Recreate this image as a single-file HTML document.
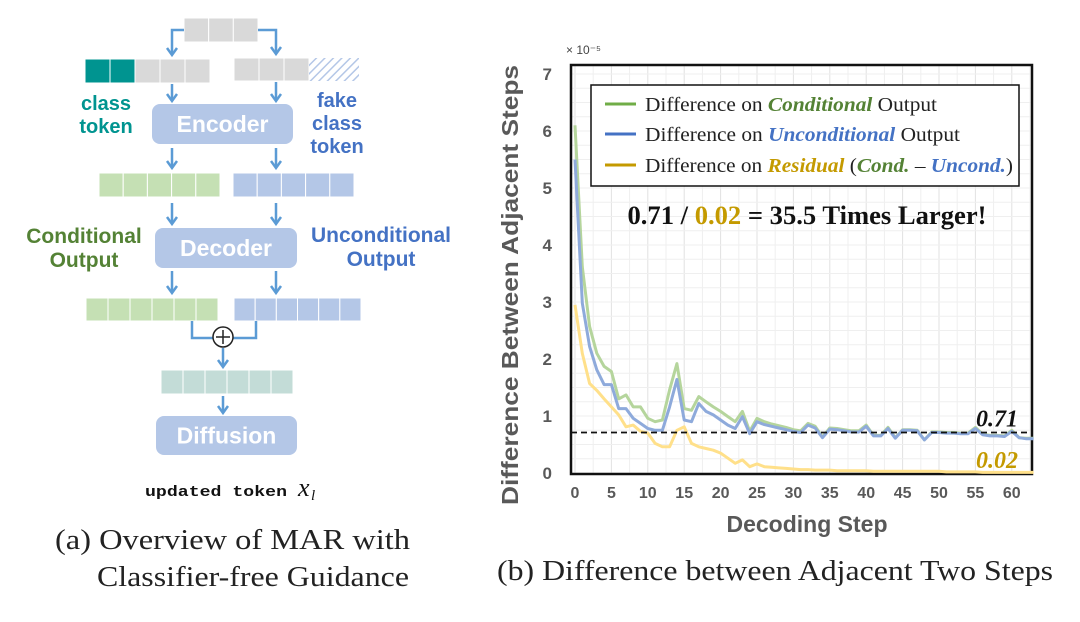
<!DOCTYPE html>
<html><head><meta charset="utf-8"><style>
body{margin:0;background:#fff;width:1080px;height:622px;overflow:hidden;font-family:"Liberation Sans",sans-serif}
svg{position:absolute;left:0;top:0}
</style></head><body>
<svg width="1080" height="622" viewBox="0 0 1080 622" xmlns="http://www.w3.org/2000/svg">
<defs>
<pattern id="hatch" width="6" height="6" patternUnits="userSpaceOnUse" patternTransform="rotate(45)">
<rect width="6" height="6" fill="#fff"/><line x1="0" y1="0" x2="0" y2="6" stroke="#b4c7e7" stroke-width="3"/></pattern>
</defs>
<g id="diagram"></g>
<g id="chart"></g>
<text x="55" y="549" font-family="Liberation Serif,serif" font-size="28" fill="#222" textLength="355" lengthAdjust="spacingAndGlyphs">(a)  Overview of MAR with</text>
<text x="97" y="586" font-family="Liberation Serif,serif" font-size="28" fill="#222" textLength="312" lengthAdjust="spacingAndGlyphs">Classifier-free Guidance</text>
<text x="497" y="580" font-family="Liberation Serif,serif" font-size="28" fill="#222" textLength="556" lengthAdjust="spacingAndGlyphs">(b) Difference between Adjacent Two Steps</text>
</svg>
<script>
const NS="http://www.w3.org/2000/svg";
function mk(parent,tag,attrs,txt){const e=document.createElementNS(NS,tag);for(const k in attrs)e.setAttribute(k,attrs[k]);if(txt!==undefined)e.textContent=txt;parent.appendChild(e);return e;}
// ---------- Diagram ----------
const D=document.getElementById('diagram');
function row(x,y,w,h,fills,name){const g=mk(D,'g',{});const cw=w/fills.length;fills.forEach((f,i)=>mk(g,'rect',{x:x+i*cw,y:y,width:cw,height:h,fill:f,stroke:'#fff','stroke-width':1}));}
const G='#d9d9d9',T='#009490',GR='#c5e0b4',BL='#b4c7e7',TL='#c3dcd7';
row(184,18,74,24,[G,G,G],'input-tokens');
row(85,59,125,24,[T,T,G,G,G],'conditional-tokens');
row(234,58,75,23,[G,G,G],'unconditional-tokens');
mk(D,'rect',{x:309,y:58,width:50,height:23,fill:'url(#hatch)'});
row(99,173,121,24,[GR,GR,GR,GR,GR],'encoded-cond-tokens');
row(233,173,121,24,[BL,BL,BL,BL,BL],'encoded-uncond-tokens');
row(86,298,132,23,[GR,GR,GR,GR,GR,GR],'conditional-output-tokens');
row(234,298,127,23,[BL,BL,BL,BL,BL,BL],'unconditional-output-tokens');
row(161,370,132,24,[TL,TL,TL,TL,TL,TL],'guided-tokens');
function box(x,y,w,h,t,name){const g=mk(D,'g',{});mk(g,'rect',{x:x,y:y,width:w,height:h,rx:8,fill:'#b4c7e7'});mk(g,'text',{x:x+w/2,y:y+h/2+8,'text-anchor':'middle','font-size':23,'font-weight':'bold',fill:'#fff'},t);}
box(152,104,141,40,'Encoder','encoder-box');
box(155,228,142,40,'Decoder','decoder-box');
box(156,416,141,39,'Diffusion','diffusion-box');
function arrow(d,ex,ey){mk(D,'path',{d:d,stroke:'#5b9bd5','stroke-width':2.5,fill:'none'});
mk(D,'path',{d:`M${ex-5},${ey-7} L${ex},${ey} L${ex+5},${ey-7}`,stroke:'#5b9bd5','stroke-width':2.5,fill:'none','stroke-linejoin':'miter'});}
arrow('M184,30 H172 V55',172,55);arrow('M258,30 H276 V54',276,54);
arrow('M172,84 V101',172,101);arrow('M276,82 V101',276,101);
arrow('M172,148 V168',172,168);arrow('M276,148 V168',276,168);
arrow('M172,203 V224',172,224);arrow('M276,203 V224',276,224);
arrow('M172,271 V293',172,293);arrow('M276,271 V293',276,293);
arrow('M223,348 V367',223,367);arrow('M223,396 V413',223,413);
mk(D,'path',{d:'M192,321 V338 H213 M233,338 H256 V321',stroke:'#5b9bd5','stroke-width':2.5,fill:'none'});
const pc=mk(D,'g',{});
mk(pc,'circle',{cx:223,cy:337,r:10,fill:'#fff',stroke:'#222','stroke-width':1.5});
mk(pc,'path',{d:'M216,337 H230 M223,330 V344',stroke:'#222','stroke-width':1.5});
function lbl(x,y,lines,col,name,fs){const t=mk(D,'text',{x:x,y:y,'font-size':fs,'font-weight':'bold',fill:col,'text-anchor':'middle'});lines.forEach((l,i)=>mk(t,'tspan',{x:x,dy:i?(fs+3):0},l));}
lbl(106,110,['class','token'],'#009490','class-token-label',20);
lbl(337,107,['fake','class','token'],'#4472c4','fake-class-token-label',20);
lbl(84,243,['Conditional','Output'],'#548235','conditional-output-label',21);
lbl(381,242,['Unconditional','Output'],'#4472c4','unconditional-output-label',21);
const ut=mk(D,'text',{x:145,y:496,'font-family':'Liberation Mono,monospace','font-size':15,'font-weight':'bold',fill:'#111',textLength:142,lengthAdjust:'spacingAndGlyphs'},'updated token');

mk(D,'text',{x:298,y:496,'font-family':'Liberation Serif,serif','font-size':26,'font-style':'italic',fill:'#111'},'x');
mk(D,'text',{x:311,y:500,'font-family':'Liberation Serif,serif','font-size':15,'font-style':'italic',fill:'#111'},'l');

// ---------- Chart data ----------
const steps=Array.from({length:64},(_,i)=>i);
const condVals=[6.1,3.62,2.57,2.1,1.87,1.78,1.3,1.37,1.16,1.16,0.96,0.9,0.93,1.46,1.92,1.13,1.1,1.34,1.25,1.16,1.08,0.99,0.9,1.08,0.73,0.96,0.9,0.86,0.83,0.8,0.76,0.74,0.87,0.82,0.63,0.79,0.78,0.76,0.74,0.74,0.84,0.66,0.66,0.8,0.62,0.76,0.76,0.75,0.58,0.72,0.72,0.71,0.71,0.7,0.7,0.8,0.68,0.66,0.66,0.65,0.75,0.62,0.61,0.61];
const uncondVals=[5.5,2.98,2.22,1.81,1.55,1.55,1.13,1.13,0.96,0.87,0.78,0.75,0.75,1.16,1.64,0.93,0.9,1.22,1.08,1.02,0.93,0.84,0.78,0.99,0.69,0.9,0.85,0.82,0.79,0.76,0.73,0.71,0.84,0.79,0.62,0.77,0.76,0.74,0.72,0.72,0.82,0.65,0.65,0.78,0.61,0.75,0.75,0.74,0.58,0.71,0.71,0.7,0.7,0.69,0.69,0.78,0.67,0.65,0.65,0.64,0.73,0.62,0.6,0.6];
const residVals=[2.95,2.1,1.57,1.45,1.3,1.16,1.02,0.81,0.84,0.73,0.7,0.52,0.46,0.46,0.75,0.81,0.52,0.46,0.43,0.4,0.35,0.26,0.17,0.23,0.11,0.16,0.11,0.1,0.09,0.08,0.07,0.06,0.06,0.05,0.05,0.05,0.04,0.04,0.04,0.04,0.04,0.03,0.03,0.03,0.03,0.03,0.03,0.03,0.03,0.03,0.03,0.02,0.02,0.02,0.02,0.02,0.01,0.01,0.01,0.01,0.01,0.01,0.01,0.01];
const yTicks=[0,1,2,3,4,5,6,7];
const xTicks=[0,5,10,15,20,25,30,35,40,45,50,55,60];
const refValue=0.71;
const residRef=0.02;
// ---------- Chart drawing ----------
const C=document.getElementById('chart');
const X0=575,XS=7.28,Y0=473,YS=57;
const xs=v=>X0+v*XS, ys=v=>Y0-v*YS;
const L=571,R=1032,TOP=65,BOT=474;
for(let v=0;v<=65;v+=2.5){if(xs(v)>R)break;mk(C,'line',{x1:xs(v),x2:xs(v),y1:TOP,y2:BOT,stroke:v%5==0?'#e2e2e2':'#efefef','stroke-width':1});}
for(let v=0;v<=7.5;v+=0.25){if(ys(v)<TOP)break;mk(C,'line',{x1:L,x2:R,y1:ys(v),y2:ys(v),stroke:'#efefef','stroke-width':1});}
mk(C,'rect',{x:L,y:TOP,width:R-L,height:BOT-TOP,fill:'none',stroke:'#111','stroke-width':2.5});
yTicks.forEach(v=>{const t=mk(C,'text',{x:552,y:ys(v)+6,'text-anchor':'end','font-size':17,'font-weight':'bold',fill:'#595959'},v);

});
xTicks.forEach(v=>{const t=mk(C,'text',{x:xs(v),y:498,'text-anchor':'middle','font-size':16,'font-weight':'bold',fill:'#595959'},v);

});
const sc=mk(C,'text',{x:566,y:54,'font-size':12,fill:'#444'},'× 10⁻⁵');


const yt=mk(C,'text',{x:0,y:0,transform:'translate(518,285) rotate(-90)','text-anchor':'middle','font-size':23,'font-weight':'bold',fill:'#595959',textLength:440,lengthAdjust:'spacingAndGlyphs'},'Difference Between Adjacent Steps');


const xt=mk(C,'text',{x:807,y:532,'text-anchor':'middle','font-size':23,'font-weight':'bold',fill:'#595959'},'Decoding Step');


function series(vals,col,name){const d=vals.map((v,i)=>(i?'L':'M')+xs(steps[i]).toFixed(1)+','+ys(v).toFixed(1)).join(' ');
const p=mk(C,'path',{d:d,fill:'none',stroke:col,'stroke-width':3,'stroke-linejoin':'round'});

}
series(residVals,'#ffe08a','residual-line');
series(condVals,'#b5d59c','conditional-line');
series(uncondVals,'#8eaadb','unconditional-line');
const dl=mk(C,'line',{x1:L,x2:R,y1:ys(refValue),y2:ys(refValue),stroke:'#111','stroke-width':1.8,'stroke-dasharray':'6,4'});


const a1=mk(C,'text',{x:1018,y:ys(refValue)-6,'text-anchor':'end','font-family':'Liberation Serif,serif','font-size':24,'font-weight':'bold','font-style':'italic',fill:'#111'},refValue.toFixed(2));


const a2=mk(C,'text',{x:1018,y:ys(residRef)-4,'text-anchor':'end','font-family':'Liberation Serif,serif','font-size':24,'font-weight':'bold','font-style':'italic',fill:'#c49a00'},residRef.toFixed(2));


// legend
const lg=mk(C,'g',{});


mk(lg,'rect',{x:591,y:85,width:428,height:101,fill:'#fff',stroke:'#111','stroke-width':1.5});
const ent=[['#70ad47',104,292,[['Difference on ',''],['Conditional','#548235'],[' Output','']]],
['#4472c4',134,315,[['Difference on ',''],['Unconditional','#4472c4'],[' Output','']]],
['#c49a00',165,368,[['Difference on ',''],['Residual','#c49a00'],[' (',''],['Cond.','#548235'],[' – ',''],['Uncond.','#4472c4'],[')','']]]];
ent.forEach(e=>{mk(lg,'line',{x1:605,x2:636,y1:e[1],y2:e[1],stroke:e[0],'stroke-width':3});
const t=mk(lg,'text',{x:645,y:e[1]+7,'font-family':'Liberation Serif,serif','font-size':20,fill:'#222',textLength:e[2],lengthAdjust:'spacingAndGlyphs'});


e[3].forEach(s=>{const a={};if(s[1]){a.fill=s[1];a['font-weight']='bold';a['font-style']='italic';}mk(t,'tspan',a,s[0]);});});
const rt=mk(C,'text',{x:807,y:224,'text-anchor':'middle','font-family':'Liberation Serif,serif','font-size':26,'font-weight':'bold',fill:'#111',textLength:359,lengthAdjust:'spacingAndGlyphs'});


mk(rt,'tspan',{},'0.71 / ');mk(rt,'tspan',{fill:'#c49a00'},'0.02');mk(rt,'tspan',{},' = 35.5 Times Larger!');
</script>
</body></html>
